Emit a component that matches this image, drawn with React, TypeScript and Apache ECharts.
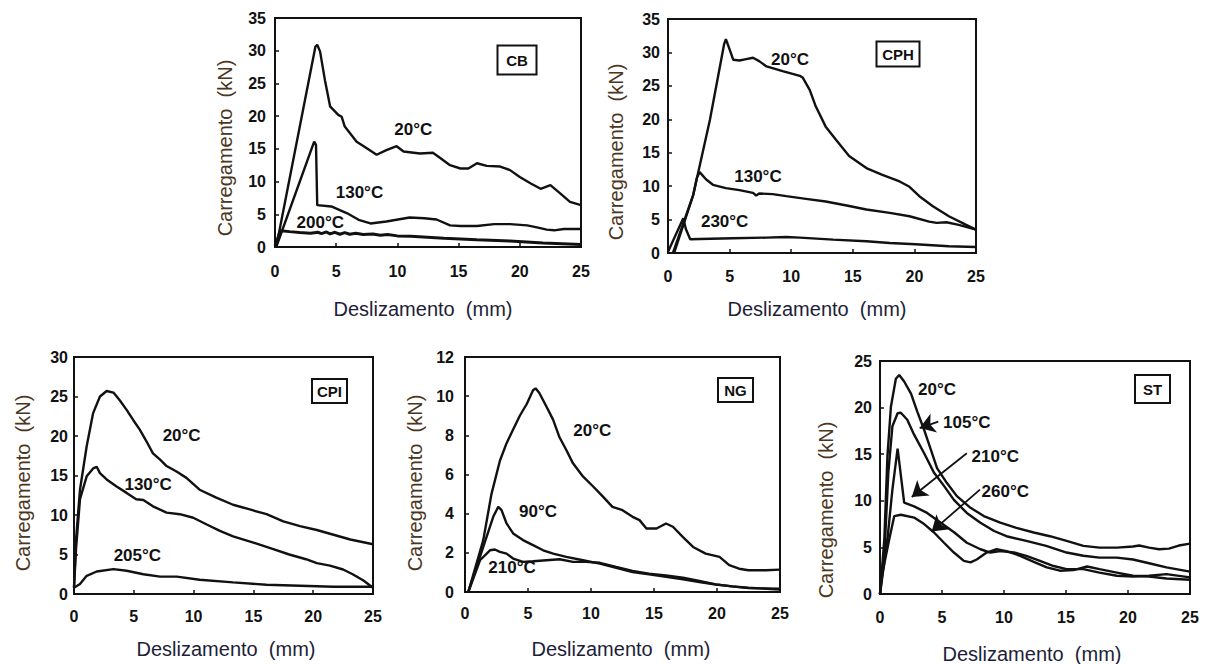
import React, { useEffect, useRef } from "react";
import * as echarts from "echarts";

type Pt = [number, number];

// ---------- DATA ----------
const xTicks = [0, 5, 10, 15, 20, 25];

// CB
const cb20: Pt[] = [[0.1,0],[3.3,30.6],[3.45,30.9],[3.68,29.9],[4.08,25.5],[4.5,21.5],[5.17,20.2],[5.45,19.9],[5.7,18.4],[6.13,17.4],[6.67,16.1],[7.5,15.1],[8.3,14.1],[9.1,14.8],[9.94,15.4],[10.5,14.6],[11.85,14.3],[12.9,14.4],[13.5,13.6],[14.3,12.5],[15.15,12.0],[15.8,12.0],[16.5,12.8],[17.3,12.4],[18.4,12.3],[19.2,11.75],[20.0,10.7],[20.9,9.7],[21.7,8.9],[22.5,9.45],[23.3,8.2],[24.1,6.9],[25,6.4]];
const cb130: Pt[] = [[0.1,0],[3.2,16.1],[3.35,15.6],[3.45,6.4],[4.6,6.2],[5.9,5.15],[6.9,4.1],[7.8,3.6],[9.1,3.9],[11.0,4.5],[12.2,4.4],[13.2,4.2],[14.3,3.3],[15.15,3.2],[16.5,3.2],[17.9,3.5],[19.2,3.5],[20.6,3.3],[21.4,3.0],[22.2,2.65],[22.8,2.55],[23.6,2.75],[25,2.75]];
const cb200: Pt[] = [[0,0.2],[0.45,2.5],[1.2,2.35],[2.0,2.2],[2.9,2.1],[3.5,2.25],[3.8,2.05],[4.2,2.3],[4.5,2.0],[4.9,2.25],[5.3,1.95],[5.7,2.2],[6.1,1.95],[6.6,2.1],[7.2,1.9],[8.0,2.0],[8.6,1.8],[9.2,1.9],[10,1.7],[11.1,1.65],[13.8,1.35],[16.5,1.1],[19.2,0.9],[21.9,0.6],[25,0.4]];

// CPH
const cph20: Pt[] = [[0.5,0],[2.05,8.7],[3.4,19.9],[4.55,31.2],[4.7,32.0],[5.05,30.2],[5.3,28.9],[5.8,28.8],[6.35,29.0],[6.9,29.2],[7.4,28.7],[8.0,27.9],[9.3,27.2],[10.7,26.5],[10.95,26.2],[11.5,24.4],[12.0,21.9],[12.8,18.9],[13.65,16.9],[14.7,14.5],[16.1,12.7],[17.4,11.7],[18.8,10.7],[19.6,9.9],[20.4,8.5],[21.5,7.0],[22.8,5.5],[24.2,4.2],[25,3.5]];
const cph130: Pt[] = [[0.4,0],[2.05,8.7],[2.35,11.3],[2.57,12.1],[3.1,11.0],[3.65,10.2],[4.7,9.7],[5.8,9.4],[6.9,9.0],[7.16,8.6],[7.4,8.9],[8.5,8.8],[9.6,8.5],[11.2,8.1],[12.8,7.7],[14.5,7.1],[16.1,6.5],[18.0,6.0],[19.6,5.5],[21.2,4.7],[21.8,4.5],[22.6,4.6],[23.6,4.2],[25,3.5]];
const cph230: Pt[] = [[0,0.2],[1.24,5.2],[1.45,3.6],[1.8,2.05],[2.57,2.1],[5.27,2.2],[7.97,2.3],[9.6,2.4],[10.7,2.3],[13.4,2.0],[16.1,1.75],[18.0,1.5],[20.1,1.3],[22.8,1.0],[25,0.9]];

// CPI
const cpi20: Pt[] = [[0,0.8],[0.17,6.9],[0.5,13.2],[1.06,18.7],[1.6,22.9],[2.17,25.0],[2.73,25.7],[3.3,25.5],[3.84,24.5],[4.4,23.3],[4.96,22.0],[5.5,20.8],[6.07,19.3],[6.6,17.8],[7.2,17.0],[7.74,16.2],[8.57,15.5],[9.4,14.7],[10.5,13.2],[11.9,12.2],[13.3,11.3],[14.7,10.7],[16.1,10.1],[17.5,9.2],[18.9,8.6],[20.3,8.1],[21.7,7.5],[23.1,6.9],[25,6.3]];
const cpi130: Pt[] = [[0,0.8],[0.17,5.7],[0.5,12.0],[1.06,14.9],[1.6,15.9],[1.9,16.1],[2.17,15.3],[2.73,14.5],[3.56,13.6],[4.4,12.8],[5.2,12.0],[5.8,11.9],[6.6,11.1],[7.74,10.3],[8.85,10.1],[9.97,9.65],[11.1,8.8],[12.2,8.0],[13.3,7.3],[15.0,6.5],[16.6,5.7],[18.0,5.0],[19.4,4.4],[20.3,3.9],[21.4,3.6],[22.5,3.1],[23.3,2.5],[24.2,1.7],[25,0.8]];
const cpi205: Pt[] = [[0,0.8],[0.5,1.26],[1.06,2.3],[1.9,2.85],[3.3,3.15],[4.4,2.94],[5.8,2.5],[7.2,2.2],[8.6,2.2],[10.5,1.8],[13.3,1.47],[16.1,1.17],[18.9,1.05],[21.7,0.92],[25,0.92]];

// NG
const ng20: Pt[] = [[0.26,0],[1.45,2.65],[2.1,5.0],[2.77,6.7],[3.3,7.6],[3.82,8.3],[4.35,9.0],[4.9,9.6],[5.4,10.3],[5.6,10.4],[5.9,10.16],[6.46,9.47],[6.99,8.8],[7.5,7.9],[8.04,7.25],[8.57,6.57],[9.36,5.9],[10.15,5.4],[10.95,4.87],[11.7,4.35],[12.5,4.18],[13.3,3.84],[13.85,3.67],[14.4,3.24],[15.2,3.24],[15.95,3.5],[16.5,3.33],[17.3,2.8],[18.1,2.3],[19.1,1.96],[20.2,1.79],[20.97,1.37],[21.75,1.19],[22.5,1.11],[23.9,1.11],[25,1.14]];
const ng90: Pt[] = [[0.26,0],[1.45,2.3],[2.24,3.84],[2.64,4.35],[2.9,4.18],[3.3,3.5],[3.82,2.99],[4.6,2.65],[5.4,2.39],[6.2,2.13],[7.0,1.96],[8.04,1.79],[9.36,1.62],[10.7,1.45],[12.0,1.23],[13.3,1.02],[14.6,0.9],[15.95,0.77],[17.3,0.65],[18.6,0.51],[19.9,0.38],[21.2,0.29],[22.5,0.22],[25,0.12]];
const ng210: Pt[] = [[0.26,0],[1.19,1.62],[1.98,2.13],[2.37,2.17],[2.77,2.05],[3.3,1.96],[3.82,1.71],[4.6,1.54],[5.4,1.57],[6.46,1.62],[7.5,1.67],[8.57,1.54],[9.6,1.54],[10.7,1.49],[12.0,1.28],[13.3,1.08],[14.6,0.94],[15.95,0.84],[17.3,0.73],[18.6,0.56],[19.9,0.39],[21.2,0.29],[22.5,0.2],[25,0.17]];

// ST
const st20: Pt[] = [[0,0],[0.35,5.9],[0.6,14.8],[0.88,20.1],[1.28,23.1],[1.55,23.5],[1.95,22.8],[2.5,21.5],[3.0,19.6],[3.56,17.6],[4.1,15.5],[4.6,13.5],[5.4,11.9],[6.2,10.5],[7.3,9.25],[8.37,8.36],[9.7,7.65],[11.0,7.1],[12.4,6.6],[13.7,6.2],[15.05,5.7],[16.4,5.16],[17.7,4.98],[19.1,4.98],[20.4,5.1],[20.9,5.2],[21.7,4.98],[22.5,4.8],[23.3,4.87],[24.1,5.2],[25,5.4]];
const st105: Pt[] = [[0,0],[0.35,4.1],[0.67,13.0],[1.0,18.0],[1.42,19.4],[1.68,19.45],[2.2,18.7],[2.75,17.1],[3.56,15.1],[4.36,13.0],[5.16,11.6],[5.96,10.1],[7.0,8.7],[8.1,7.65],[9.2,6.76],[10.2,6.2],[11.8,5.7],[13.4,5.16],[15.05,4.45],[16.4,4.1],[17.7,3.9],[19.1,3.9],[20.4,3.7],[21.7,3.3],[23.1,2.85],[25,2.4]];
const st210: Pt[] = [[0,0],[0.6,5.9],[1.0,11.2],[1.42,15.6],[1.95,9.8],[2.75,9.4],[3.8,8.7],[4.9,7.65],[6.0,6.6],[7.0,5.5],[8.1,4.8],[8.9,4.45],[9.7,4.6],[10.8,4.45],[11.8,4.1],[12.9,3.56],[14.0,3.0],[15.05,2.67],[16.4,2.67],[17.7,2.3],[19.1,1.96],[20.4,1.88],[21.7,1.96],[23.1,2.13],[25,1.78]];
const st260: Pt[] = [[0,0],[0.1,1.6],[0.75,5.9],[1.15,8.36],[1.68,8.5],[2.75,8.2],[3.56,7.5],[4.36,6.6],[5.16,5.5],[5.96,4.45],[6.76,3.56],[7.3,3.4],[7.8,3.7],[8.6,4.45],[9.4,4.8],[10.2,4.6],[11.3,4.1],[12.4,3.45],[13.45,2.85],[14.5,2.5],[15.6,2.56],[16.7,2.95],[17.7,2.67],[19.1,2.3],[20.4,1.96],[21.7,1.88],[23.1,1.67],[25,1.53]];

// Curve labels (text, x, y in data units)
const cbLabels: [string, number, number][] = [["20°C",11.3,17.9],["130°C",6.9,8.4],["200°C",3.7,3.8]];
const cphLabels: [string, number, number][] = [["20°C",9.9,28.9],["130°C",7.3,11.5],["230°C",4.6,4.7]];
const cpiLabels: [string, number, number][] = [["20°C",9.0,20.1],["130°C",6.2,13.9],["205°C",5.3,4.9]];
const ngLabels: [string, number, number][] = [["20°C",10.1,8.27],["90°C",5.8,4.1],["210°C",3.73,1.23]];
const stLabels: [string, number, number][] = [["20°C",4.6,21.9],["105°C",7.0,18.45],["210°C",9.3,14.8],["260°C",10.1,11.0]];
// ST arrows: [from x, from y, to x, to y]
const stArrows: [number, number, number, number][] = [[4.7,18.5,3.2,17.8],[7.0,15.1,2.56,10.4],[8.06,11.2,4.17,6.7]];

const panelNames = ["CB", "CPH", "CPI", "NG", "ST"];
const yMaxes = [35, 35, 30, 12, 25];
const yIntervals = [5, 5, 5, 2, 5];
const panelSeries: Pt[][][] = [
  [cb20, cb130, cb200],
  [cph20, cph130, cph230],
  [cpi20, cpi130, cpi205],
  [ng20, ng90, ng210],
  [st20, st105, st210, st260],
];
const panelLabels = [cbLabels, cphLabels, cpiLabels, ngLabels, stLabels];

const xTitle = "Deslizamento  (mm)";
const yTitle = "Carregamento  (kN)";

// ---------- LAYOUT ----------
const grids = [
  { left: 275, top: 18, width: 306, height: 229 },
  { left: 668, top: 19, width: 308, height: 234 },
  { left: 74, top: 357, width: 299, height: 237 },
  { left: 465, top: 357, width: 315, height: 235 },
  { left: 880, top: 361, width: 310, height: 233 },
];
const xLabelMargin = [16, 15, 14, 13, 15];
const yLabelMargin = [9, 8, 6, 11, 8];
const yTitlePos = [[225, 148], [616, 152], [23, 483], [415, 483], [826, 510]];
const xTitlePos = [[423, 309], [817, 309], [226, 649], [621, 649], [1032, 654]];
const boxes = [
  { cx: 517, cy: 60, w: 39, h: 29 },
  { cx: 898, cy: 54, w: 43, h: 25 },
  { cx: 329.5, cy: 391, w: 35, h: 24 },
  { cx: 735.5, cy: 390, w: 35, h: 24 },
  { cx: 1152.5, cy: 389, w: 35, h: 28 },
];

const INK = "#111";
const TICK_FONT = "Liberation Sans";

export default function App() {
  const ref = useRef<HTMLDivElement>(null);
  useEffect(() => {
    if (!ref.current) return;
    const chart = echarts.init(ref.current, undefined, { renderer: "svg" });

    const series: any[] = [];
    panelSeries.forEach((curves, pi) => {
      curves.forEach((data, ci) => {
        const s: any = {
          type: "line",
          xAxisIndex: pi,
          yAxisIndex: pi,
          data,
          showSymbol: false,
          symbol: "none",
          silent: true,
          lineStyle: { color: INK, width: pi === 0 && ci === 2 ? 3 : 2.4 },
          z: 3,
        };
        if (ci === 0) {
          s.markPoint = {
            symbol: "circle",
            symbolSize: 0,
            silent: true,
            itemStyle: { color: "transparent" },
            data: panelLabels[pi].map(([t, x, y]) => ({
              coord: [x, y],
              value: t,
              label: {
                show: true,
                position: "inside",
                formatter: t,
                color: INK,
                fontFamily: "Liberation Sans",
                fontWeight: "bold",
                fontSize: 17,
              },
            })),
          };
          if (pi === 4) {
            s.markLine = {
              silent: true,
              symbol: ["none", "arrow"],
              symbolSize: 15,
              lineStyle: { color: INK, width: 1.8, type: "solid" },
              label: { show: false },
              data: stArrows.map(([x1, y1, x2, y2]) => [
                { coord: [x1, y1] },
                { coord: [x2, y2] },
              ]),
            };
          }
        }
        series.push(s);
      });
    });

    const graphic: any[] = [];
    panelNames.forEach((name, i) => {
      const b = boxes[i];
      graphic.push({
        type: "rect",
        shape: { x: b.cx - b.w / 2, y: b.cy - b.h / 2, width: b.w, height: b.h },
        style: { fill: "#fff", stroke: INK, lineWidth: 2 },
        z: 10,
      });
      graphic.push({
        type: "text",
        x: b.cx,
        y: b.cy,
        style: {
          text: name,
          fill: INK,
          font: "bold 15px 'Liberation Sans'",
          align: "center",
          verticalAlign: "middle",
          textAlign: "center",
          textVerticalAlign: "middle",
        },
        z: 11,
      });
      graphic.push({
        type: "text",
        x: yTitlePos[i][0],
        y: yTitlePos[i][1],
        rotation: Math.PI / 2,
        style: {
          text: yTitle,
          fill: "#4b3621",
          font: "20px 'Liberation Sans'",
          align: "center",
          verticalAlign: "middle",
          textAlign: "center",
          textVerticalAlign: "middle",
        },
      });
      graphic.push({
        type: "text",
        x: xTitlePos[i][0],
        y: xTitlePos[i][1],
        style: {
          text: xTitle,
          fill: "#1e1e38",
          font: "20px 'Liberation Sans'",
          align: "center",
          verticalAlign: "middle",
          textAlign: "center",
          textVerticalAlign: "middle",
        },
      });
    });

    const option: any = {
      animation: false,
      backgroundColor: "#fff",
      grid: grids.map((g) => ({
        ...g,
        show: true,
        borderColor: INK,
        borderWidth: 2,
        backgroundColor: "transparent",
        containLabel: false,
      })),
      xAxis: grids.map((_, i) => ({
        gridIndex: i,
        type: "value",
        min: xTicks[0],
        max: xTicks[xTicks.length - 1],
        interval: 5,
        axisLine: { show: true, onZero: false, lineStyle: { color: INK, width: 2 } },
        axisTick: { show: true, inside: true, length: 4, lineStyle: { color: INK, width: 1.5 } },
        axisLabel: {
          margin: xLabelMargin[i],
          color: INK,
          fontFamily: TICK_FONT,
          fontWeight: "bold",
          fontSize: 16,
        },
        splitLine: { show: false },
      })),
      yAxis: grids.map((_, i) => ({
        gridIndex: i,
        type: "value",
        min: 0,
        max: yMaxes[i],
        interval: yIntervals[i],
        axisLine: { show: true, onZero: false, lineStyle: { color: INK, width: 2 } },
        axisTick: { show: true, inside: true, length: 4, lineStyle: { color: INK, width: 1.5 } },
        axisLabel: {
          margin: yLabelMargin[i],
          color: INK,
          fontFamily: TICK_FONT,
          fontWeight: "bold",
          fontSize: 16,
        },
        splitLine: { show: false },
      })),
      series,
      graphic,
    };
    chart.setOption(option);
    return () => chart.dispose();
  }, []);

  return (
    <div
      ref={ref}
      style={{ position: "absolute", left: 0, top: 0, width: 1206, height: 664, background: "#fff" }}
    />
  );
}
